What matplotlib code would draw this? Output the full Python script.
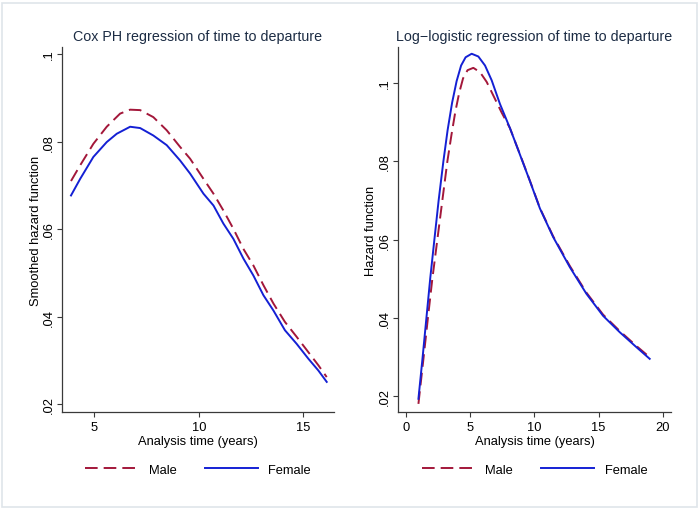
import matplotlib
matplotlib.use("Agg")
import matplotlib.pyplot as plt
from matplotlib.patches import Rectangle
from matplotlib.ticker import FuncFormatter

plt.rcParams["font.family"] = ["Liberation Sans", "DejaVu Sans"]

# ── Cox PH: smoothed hazard ──────────────────────────────────────────────
cox_t_male = [3.88, 4.32, 4.95, 5.59, 6.23, 6.71, 7.19, 7.82, 8.46, 9.10, 9.58,
              10.22, 10.70, 11.17, 11.65, 12.13, 12.61, 13.09, 13.57, 14.12,
              14.68, 15.24, 15.72, 16.12]
cox_h_male = [0.0710, 0.0746, 0.0795, 0.0834, 0.0864, 0.0873, 0.0872, 0.0856,
              0.0826, 0.0788, 0.0761, 0.0715, 0.0681, 0.0643, 0.0601, 0.0555,
              0.0517, 0.0472, 0.0430, 0.0388, 0.0354, 0.0319, 0.0289, 0.0262]

cox_t_female = [3.88, 4.32, 4.95, 5.59, 6.07, 6.71, 7.19, 7.82, 8.46, 9.10, 9.58,
                10.22, 10.70, 11.17, 11.65, 12.13, 12.61, 13.09, 13.57, 14.12,
                14.68, 15.24, 15.72, 16.12]
cox_h_female = [0.0677, 0.0715, 0.0765, 0.0799, 0.0818, 0.0834, 0.0831, 0.0814,
                0.0792, 0.0757, 0.0727, 0.0681, 0.0654, 0.0613, 0.0578, 0.0533,
                0.0494, 0.0449, 0.0414, 0.0369, 0.0338, 0.0304, 0.0277, 0.0251]

# ── Log-logistic hazard ──────────────────────────────────────────────────
ll_t_male = [0.98, 1.35, 1.70, 2.05, 2.45, 2.85, 3.23, 3.55, 3.85, 4.15, 4.45,
             4.80, 5.25, 5.77, 6.29, 6.93, 7.45, 8.10, 8.87, 9.65, 10.43, 11.46,
             12.76, 14.05, 15.34, 16.64, 17.93, 18.97]
ll_h_male = [0.0181, 0.0290, 0.0395, 0.0497, 0.0600, 0.0703, 0.0800, 0.0868,
             0.0927, 0.0975, 0.1012, 0.1033, 0.1039, 0.1028, 0.1003, 0.0960,
             0.0925, 0.0885, 0.0819, 0.0751, 0.0681, 0.0609, 0.0533, 0.0465,
             0.0409, 0.0367, 0.0329, 0.0300]

ll_t_female = [0.98, 1.30, 1.60, 1.90, 2.22, 2.55, 2.92, 3.25, 3.60, 3.95, 4.30,
               4.65, 5.12, 5.64, 6.16, 6.68, 7.32, 8.10, 8.87, 9.65, 10.43, 11.46,
               12.76, 14.05, 15.34, 16.64, 17.93, 18.97]
ll_h_female = [0.0194, 0.0298, 0.0400, 0.0502, 0.0600, 0.0700, 0.0800, 0.0880,
               0.0950, 0.1005, 0.1045, 0.1066, 0.1075, 0.1068, 0.1045, 0.1007,
               0.0947, 0.0885, 0.0818, 0.0750, 0.0680, 0.0607, 0.0530, 0.0462,
               0.0406, 0.0364, 0.0326, 0.0296]

cox_xticks = [5, 10, 15]
ll_xticks = [0, 5, 10, 15, 20]
yticks = [0.02, 0.04, 0.06, 0.08, 0.1]

MALE_C = "#a3173a"
FEMALE_C = "#1420d4"
TITLE_C = "#1c2c44"
AX_C = "#3a3a3a"
FS = 9.3


def fmt_y(v, _):
    s = f"{v:.2f}".rstrip("0")
    return s[1:] if s.startswith("0") else s


def style_axes(ax, title, ylabel, xticks, xlim, ylim):
    ax.set_xlim(*xlim)
    ax.set_ylim(*ylim)
    ax.set_xticks(xticks)
    ax.set_yticks(yticks)
    ax.yaxis.set_major_formatter(FuncFormatter(fmt_y))
    for s in ("top", "right"):
        ax.spines[s].set_visible(False)
    for s in ("left", "bottom"):
        ax.spines[s].set_color(AX_C)
        ax.spines[s].set_linewidth(0.9)
    ax.tick_params(axis="both", colors=AX_C, labelcolor="black", length=3.5,
                   width=0.8, labelsize=FS)
    ax.tick_params(axis="x", pad=3)
    ax.tick_params(axis="y", pad=1.5)
    for lab in ax.get_yticklabels():
        lab.set_rotation(90)
        lab.set_va("center")
    ax.set_title(title, fontsize=10.3, color=TITLE_C, pad=5)
    ax.set_xlabel("Analysis time (years)", fontsize=FS, labelpad=1.5)
    ax.set_ylabel(ylabel, fontsize=FS, labelpad=1)
    ax.legend(loc="upper center", bbox_to_anchor=(0.5, -0.11), ncol=2,
              frameon=False, fontsize=FS, handlelength=4.1,
              handletextpad=0.8, columnspacing=2.2)


fig = plt.figure(figsize=(7.0, 5.1), dpi=100)
fig.patches.append(Rectangle((0.003, 0.004), 0.993, 0.989, transform=fig.transFigure,
                             fill=False, edgecolor="#dfe5ea", linewidth=1.2))

ax1 = fig.add_axes([0.0886, 0.190, 0.3886, 0.7157])
ax1.plot(cox_t_male, cox_h_male, color=MALE_C, lw=1.4, dashes=(6.5, 3.1), label="Male")
ax1.plot(cox_t_female, cox_h_female, color=FEMALE_C, lw=1.4, label="Female")
style_axes(ax1, "Cox PH regression of time to departure", "Smoothed hazard function",
           cox_xticks, (3.45, 16.47), (0.0182, 0.1016))

ax2 = fig.add_axes([0.568, 0.190, 0.391, 0.7157])
ax2.plot(ll_t_male, ll_h_male, color=MALE_C, lw=1.4, dashes=(6.5, 3.1), label="Male")
ax2.plot(ll_t_female, ll_h_female, color=FEMALE_C, lw=1.4, label="Female")
style_axes(ax2, "Log\u2212logistic regression of time to departure", "Hazard function",
           ll_xticks, (-0.64, 20.65), (0.016, 0.1092))

fig.savefig("out.png", dpi=100)
